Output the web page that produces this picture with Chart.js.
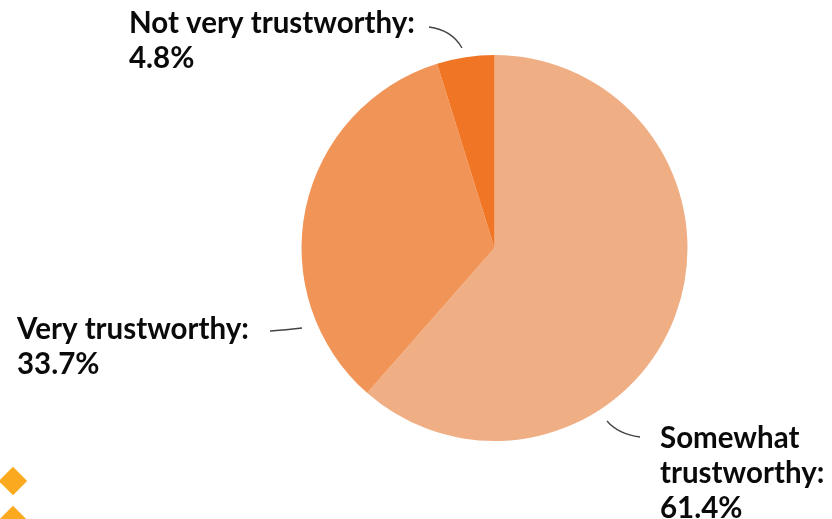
<!DOCTYPE html>
<html>
<head>
<meta charset="utf-8">
<script src="https://cdn.jsdelivr.net/npm/chart.js@4.4.0/dist/chart.umd.min.js"></script>
<style>
  html, body { margin: 0; padding: 0; background: #fff; }
  #wrap { position: relative; width: 832px; height: 519px; overflow: hidden; }
  .diamond { position: absolute; width: 20px; height: 20px; background: #fbaa1f; transform: rotate(45deg); }
</style>
</head>
<body>
<div id="wrap">
  <canvas id="chart1" width="832" height="519"></canvas>
  <div class="diamond" style="left:3px; top:471px;"></div>
  <div class="diamond" style="left:3px; top:510px;"></div>
</div>
<script>
"use strict";

var categories = ['Somewhat trustworthy', 'Very trustworthy', 'Not very trustworthy'];
var shares = [61.4, 33.7, 4.8];
var sliceColors = ['#f0ae84', '#f09557', '#f07525'];

// label text lines and where each callout sits
var callouts = [
  { lines: ['Somewhat', 'trustworthy:', shares[0] + '%'], x: 660, y: 448, lead: [[607, 421], [618, 434], [640, 437]] },
  { lines: ['Very trustworthy:', shares[1] + '%'], x: 17, y: 339, lead: [[270, 331], [286, 330], [302, 328]] },
  { lines: ['Not very trustworthy:', shares[2] + '%'], x: 129, y: 33, lead: [[429, 27], [452, 30], [462, 48]] }
];

var calloutPlugin = {
  id: 'callouts',
  afterDraw: function (chart) {
    var c = chart.ctx;
    c.save();
    callouts.forEach(function (co) {
      c.strokeStyle = '#444';
      c.lineWidth = 1.3;
      c.beginPath();
      c.moveTo(co.lead[0][0], co.lead[0][1]);
      c.quadraticCurveTo(co.lead[1][0], co.lead[1][1], co.lead[2][0], co.lead[2][1]);
      c.stroke();
      c.fillStyle = '#0a0a0a';
      c.font = 'bold 29.5px Lato';
      c.textBaseline = 'alphabetic';
      co.lines.forEach(function (t, i) {
        c.fillText(t, co.x, co.y + i * 35);
      });
    });
    c.restore();
  }
};

var ctx = document.getElementById('chart1').getContext('2d');
var myChart = new Chart(ctx, {
  type: 'pie',
  data: {
    labels: categories,
    datasets: [{
      data: shares,
      backgroundColor: sliceColors,
      borderWidth: 0
    }]
  },
  options: {
    responsive: false,
    animation: false,
    layout: {
      padding: { left: 301, right: 144, top: 55, bottom: 78 }
    },
    plugins: {
      legend: { display: false },
      tooltip: { enabled: false }
    }
  },
  plugins: [calloutPlugin]
});
</script>
</body>
</html>
